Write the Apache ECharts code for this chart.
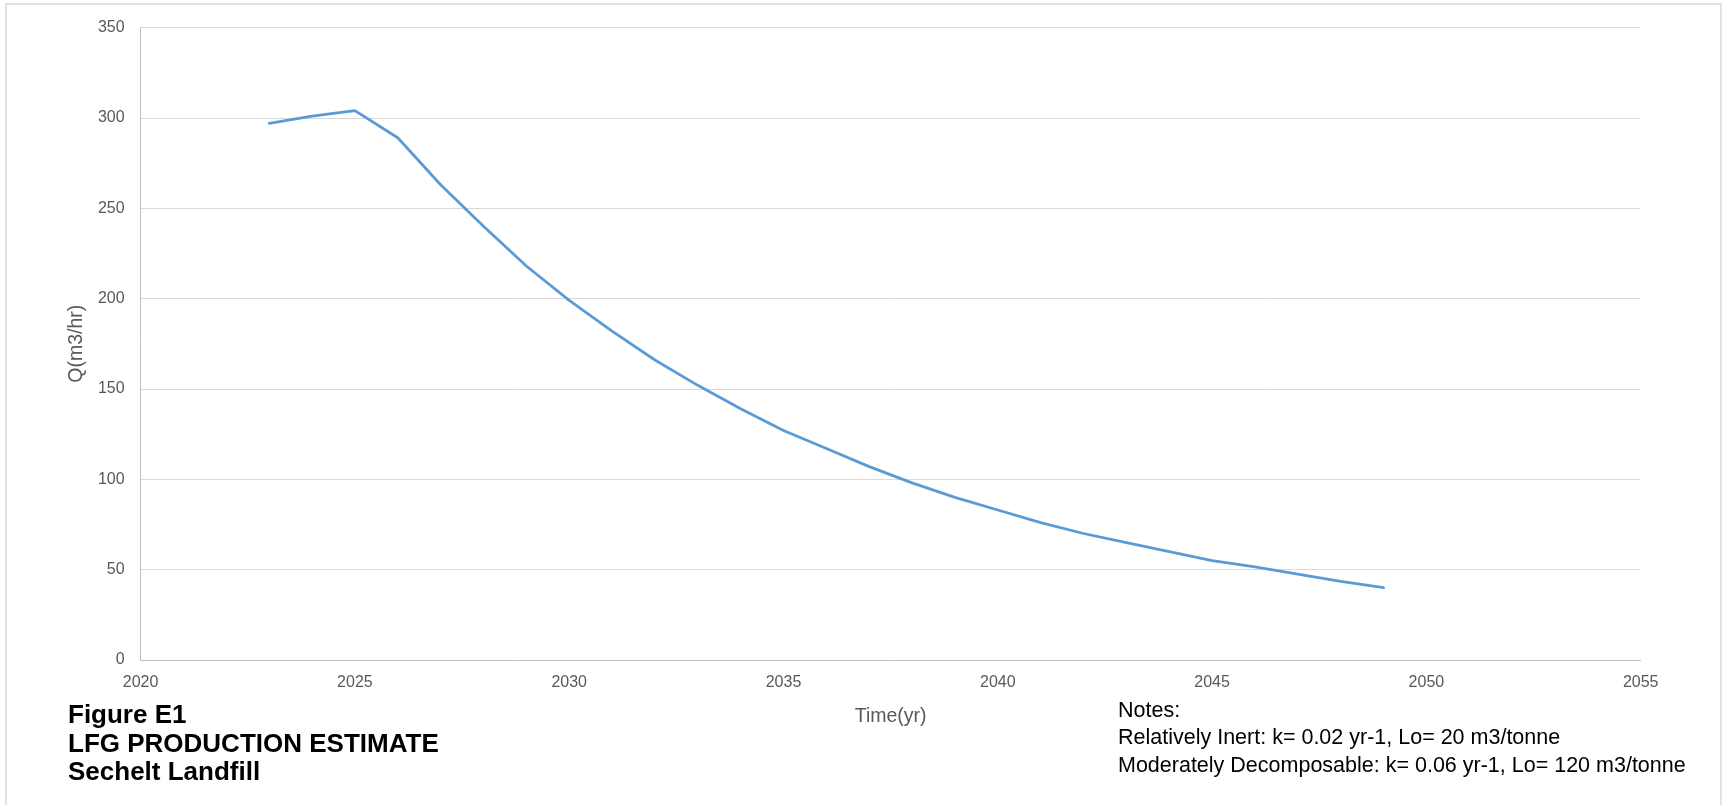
<!DOCTYPE html>
<html>
<head>
<meta charset="utf-8">
<title>Figure E1 - LFG Production Estimate</title>
<script src="https://cdn.jsdelivr.net/npm/echarts@6/dist/echarts.min.js"></script>
<style>
  html, body { margin: 0; padding: 0; background: #fff; }
  #lfgChart { width: 1722px; height: 805px; }
</style>
</head>
<body>
<div id="lfgChart"></div>
<script>
// values
const years = [2023, 2024, 2025, 2026, 2027, 2028, 2029, 2030, 2031, 2032, 2033, 2034, 2035,
  2036, 2037, 2038, 2039, 2040, 2041, 2042, 2043, 2044, 2045, 2046, 2047, 2048, 2049];
const flowRates = [297, 301, 304, 289, 263, 240, 218, 199, 182, 166, 152, 139, 127,
  117, 107, 98, 90, 83, 76, 70, 65, 60, 55, 51.5, 47.5, 43.5, 40];

const figureLines = ['Figure E1', 'LFG PRODUCTION ESTIMATE', 'Sechelt Landfill'];
const noteLines = [
  'Notes:',
  'Relatively Inert: k= 0.02 yr-1, Lo= 20 m3/tonne',
  'Moderately Decomposable: k= 0.06 yr-1, Lo= 120 m3/tonne',
];

const chart = echarts.init(document.getElementById('lfgChart'));

let graphics = [
  {
    type: 'rect',
    shape: { x: 6, y: 4, width: 1715, height: 820 },
    style: { fill: 'none', stroke: '#d9d9d9', lineWidth: 1.5 },
    silent: true,
  },
];
figureLines.forEach((txt, i) => {
  graphics.push({
    type: 'text',
    x: 68,
    y: 716 + i * 28.5,
    style: {
      text: txt,
      fill: '#000',
      font: 'bold 26px "Liberation Sans", Arial, sans-serif',
      verticalAlign: 'middle',
    },
  });
});
noteLines.forEach((txt, i) => {
  graphics.push({
    type: 'text',
    x: 1118,
    y: 711 + i * 27.5,
    style: {
      text: txt,
      fill: '#000',
      font: '21.5px "Liberation Sans", Arial, sans-serif',
      verticalAlign: 'middle',
    },
  });
});

const option = {
  animation: false,
  backgroundColor: '#fff',
  grid: {
    top: 27.5,
    left: 140.6,
    right: 81.3,
    bottom: 145,
  },
  xAxis: {
    type: 'value',
    min: 2020,
    max: 2055,
    interval: 5,
    name: 'Time(yr)',
    nameLocation: 'middle',
    nameGap: 47,
    nameTextStyle: { color: '#595959', fontSize: 19.5, fontFamily: 'Liberation Sans' },
    axisLine: { show: true, lineStyle: { color: '#bfbfbf', width: 1 } },
    axisTick: { show: false },
    splitLine: { show: false },
    axisLabel: {
      color: '#595959',
      fontSize: 16,
      fontFamily: 'Liberation Sans',
      margin: 15,
      formatter: (v) => String(v),
    },
  },
  yAxis: {
    type: 'value',
    min: 0,
    max: 350,
    interval: 50,
    name: 'Q(m3/hr)',
    nameLocation: 'middle',
    nameGap: 45.5,
    nameTextStyle: { color: '#595959', fontSize: 19.5, fontFamily: 'Liberation Sans' },
    axisLine: { show: true, lineStyle: { color: '#bfbfbf', width: 1 } },
    axisTick: { show: false },
    splitLine: { show: true, lineStyle: { color: '#d9d9d9', width: 1 } },
    axisLabel: {
      color: '#595959',
      fontSize: 16,
      fontFamily: 'Liberation Sans',
      margin: 16,
    },
  },
  series: [
    {
      name: 'Q',
      type: 'line',
      showSymbol: false,
      symbol: 'none',
      lineStyle: { color: '#5b9bd5', width: 2.75, cap: 'round', join: 'round' },
      data: years.map((yr, i) => [yr, flowRates[i]]),
    },
  ],
  graphic: graphics,
};
chart.setOption(option);
</script>
</body>
</html>
